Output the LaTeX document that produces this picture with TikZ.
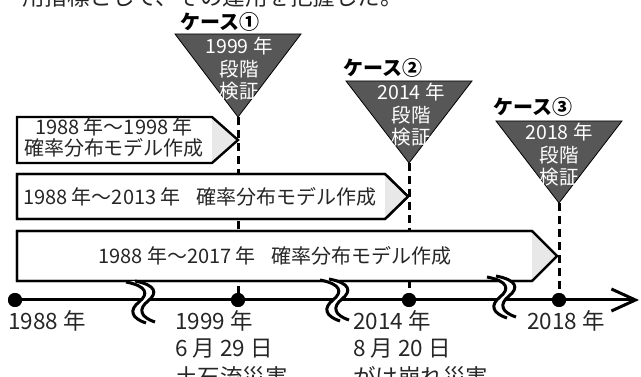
\documentclass[tikz,border=0pt]{standalone}
\usepackage{fontspec}
\setmainfont{Noto Sans CJK JP}
\usetikzlibrary{arrows.meta}
\definecolor{trigray}{HTML}{575757}
\definecolor{tipgray}{HTML}{E8E8E8}
\definecolor{ink}{HTML}{262626}
\tikzset{
  boxline/.style={line width=2.4pt, line join=miter, draw=black, fill=white},
  dashline/.style={line width=3pt, dash pattern=on 8pt off 5pt},
  tdot/.style={circle, fill=black, inner sep=0pt, minimum size=14pt},
  trishape/.style={fill=trigray, draw=black, line width=0.8pt, line join=miter},
  lbl/.style={font=\fontsize{22.5}{26}\selectfont, text=ink, anchor=base west, inner sep=0pt},
  boxtxt/.style={font=\fontsize{20}{21}\selectfont, text=ink, align=center, inner sep=0pt},
  tritxt/.style={font=\fontsize{19.5}{22.5}\selectfont, text=white, align=center, inner sep=0pt},
  casetxt/.style={font=\bfseries\fontsize{20}{20}\selectfont, text=black, inner sep=0pt},
  brk/.pic={
    \fill[white] (-13,-20) .. controls (8,-16) and (10,-8) .. (0,0)
       .. controls (-10,8) and (-8,16) .. (7,21) -- (16,20)
       .. controls (1,15) and (-1,7) .. (9,-1)
       .. controls (19,-9) and (17,-17) .. (-4,-21) -- cycle;
    \draw[line width=3pt] (-13,-20) .. controls (8,-16) and (10,-8) .. (0,0)
       .. controls (-10,8) and (-8,16) .. (7,21);
    \draw[line width=3pt] (-4,-21) .. controls (17,-17) and (19,-9) .. (9,-1)
       .. controls (-1,7) and (1,15) .. (16,20);
  }
}
\begin{document}
\begin{tikzpicture}[x=1pt,y=-1pt]
\useasboundingbox (0,0) rectangle (641,377);
\clip (0,0) rectangle (641,377);

% top sentence (cut off)
\node[lbl] (top) at (22,6) {用指標として、その運用を把握した。};

% timeline dots
\node[tdot] (d0) at (15,300) {};
\node[tdot] (d1) at (238,300) {};
\node[tdot] (d2) at (409,300) {};
\node[tdot] (d3) at (559,300) {};
\coordinate (tipend) at (639,300);

% triangle apexes
\coordinate (a1) at (238,117);
\coordinate (a2) at (409,163);
\coordinate (a3) at (559,203);

% dashed lines
\draw[dashline] (a1) -- (d1.center);
\draw[dashline] (a2) -- (d2.center);
\draw[dashline] (a3) -- (d3.center);

% boxes
\fill[tipgray] (212,117) -- (238,140) -- (212,163) -- cycle;
\path[boxline, fill=none] (17,117) -- (212,117) -- (238,140) -- (212,163) -- (17,163) -- cycle;
\path[boxline] (17,174) -- (385,174) -- (408,196.5) -- (385,219) -- (17,219) -- cycle;
\fill[tipgray] (385,174) -- (408,196.5) -- (385,219) -- cycle;
\path[boxline, fill=none] (17,174) -- (385,174) -- (408,196.5) -- (385,219) -- (17,219) -- cycle;
\path[boxline] (17,231) -- (532,231) -- (557,256) -- (532,281) -- (17,281) -- cycle;
\fill[tipgray] (532,231) -- (557,256) -- (532,281) -- cycle;
\path[boxline, fill=none] (17,231) -- (532,231) -- (557,256) -- (532,281) -- (17,281) -- cycle;

\node[boxtxt] (b1) at (114,137.5) {1988 年～1998 年\\確率分布モデル作成};
\node[boxtxt] (b2) at (200,196.5) {1988 年～2013 年\hspace{0.8em}確率分布モデル作成};
\node[boxtxt] (b3) at (275,256) {1988 年～2017 年\hspace{0.8em}確率分布モデル作成};

% triangles
\path[trishape] (175,34) -- (301,34) -- (a1) -- cycle;
\path[trishape] (346,81) -- (472,81) -- (a2) -- cycle;
\path[trishape] (496,121) -- (622,121) -- (a3) -- cycle;
\node[tritxt] (t1) at (239,69) {1999 年\\段階\\検証};
\node[tritxt] (t2) at (411,115) {2014 年\\段階\\検証};
\node[tritxt] (t3) at (559,155) {2018 年\\段階\\検証};

\node[casetxt] (c1) at (220,22) {ケース①};
\node[casetxt] (c2) at (383,68) {ケース②};
\node[casetxt] (c3) at (533,107) {ケース③};

% axis
\draw[line width=3pt, -{Straight Barb[length=24pt,width=22pt]}] (d0.center) -- (tipend);
\node[tdot] at (d0) {};
\node[tdot] at (d1) {};
\node[tdot] at (d2) {};
\node[tdot] at (d3) {};

% breaks
\pic at (139,302) {brk};
\pic at (333,300) {brk};
\pic at (500,297) {brk};

% labels
\node[lbl] (l0) at (8,330) {1988 年};
\node[lbl] (l1a) at (175,330) {1999 年};
\node[lbl] (l1b) at (175,356) {6 月 29 日};
\node[lbl] (l1c) at (175,385) {土石流災害};
\node[lbl] (l2a) at (353,330) {2014 年};
\node[lbl] (l2b) at (353,356) {8 月 20 日};
\node[lbl] (l2c) at (353,385) {がけ崩れ災害};
\node[lbl] (l3) at (527,330) {2018 年};
\end{tikzpicture}
\end{document}
